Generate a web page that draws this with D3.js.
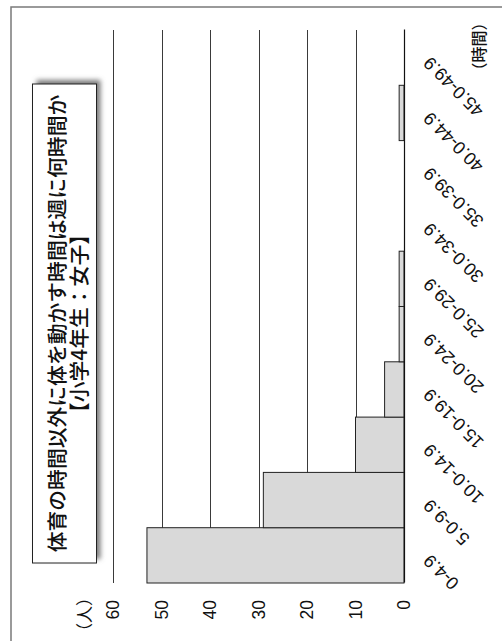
<!DOCTYPE html>
<html>
<head>
<meta charset="utf-8">
<script src="https://cdn.jsdelivr.net/npm/d3@7"></script>
<style>
  html, body { margin: 0; padding: 0; background: #fff; }
  svg { display: block; }
</style>
</head>
<body>
<script>
// Weekly hours of physical activity outside PE class (4th grade girls)
const categories = ["0-4.9", "5.0-9.9", "10.0-14.9", "15.0-19.9", "20.0-24.9",
                    "25.0-29.9", "30.0-34.9", "35.0-39.9", "40.0-44.9", "45.0-49.9"];
const counts = [53, 29, 10, 4, 1, 1, 0, 0, 1, 0];
const valueTicks = [0, 10, 20, 30, 40, 50, 60];
const titleLines = ["体育の時間以外に体を動かす時間は週に何時間か", "【小学4年生：女子】"];
const valueUnit = "（人）";
const categoryUnit = "（時間）";

const W = 502, H = 641;
const latin = "'Liberation Sans', Arial, 'Noto Sans CJK JP', sans-serif";
const cjk = "'Noto Sans CJK JP', 'Noto Sans CJK SC', sans-serif";

const svg = d3.select("body").append("svg")
  .attr("width", W).attr("height", H);

const defs = svg.append("defs");
defs.append("filter").attr("id", "boxShadow")
  .attr("x", "-20%").attr("y", "-30%").attr("width", "140%").attr("height", "160%")
  .append("feGaussianBlur").attr("stdDeviation", 2.5);

// outer frame (runs off the page on the right and bottom)
svg.append("rect")
  .attr("x", 11).attr("y", 7).attr("width", 620).attr("height", 720)
  .attr("fill", "none").attr("stroke", "#7a7a7a").attr("stroke-width", 1.5);

// the whole chart is laid out in its own frame and turned a quarter turn
const g = svg.append("g").attr("transform", `translate(0,${H}) rotate(-90)`);

const x = d3.scaleBand().domain(categories).range([58, 611]).padding(0);
const y = d3.scaleLinear().domain([0, 60]).range([404, 113]);

// horizontal gridlines
g.append("g").selectAll("line")
  .data(valueTicks.filter(t => t > 0))
  .join("line")
  .attr("x1", x.range()[0]).attr("x2", x.range()[1])
  .attr("y1", d => Math.round(y(d)) + 0.5).attr("y2", d => Math.round(y(d)) + 0.5)
  .attr("stroke", "#3a3a3a").attr("stroke-width", 1);

// histogram bars
g.append("g").selectAll("rect")
  .data(categories.map((c, i) => ({ c, v: counts[i] })).filter(d => d.v > 0))
  .join("rect")
  .attr("x", d => x(d.c))
  .attr("width", x.bandwidth())
  .attr("y", d => y(d.v))
  .attr("height", d => y(0) - y(d.v))
  .attr("fill", "#d9d9d9")
  .attr("stroke", "#222").attr("stroke-width", 1);

// value axis labels
const yAxis = g.append("g")
  .attr("transform", `translate(${x.range()[0]},0)`)
  .call(d3.axisLeft(y).tickValues(valueTicks).tickSize(0).tickPadding(17));
yAxis.select(".domain").remove();
yAxis.selectAll("text")
  .attr("font-family", latin).attr("font-size", 17.5).attr("fill", "#111");

// category axis
const xAxis = g.append("g")
  .attr("transform", `translate(0,${y(0)})`)
  .call(d3.axisBottom(x).tickSize(0));
xAxis.select(".domain")
  .attr("stroke", "#111").attr("stroke-width", 1.2);
xAxis.selectAll("text")
  .attr("font-family", latin).attr("font-size", 18).attr("fill", "#111")
  .attr("x", 0).attr("y", 0).attr("dy", 0)
  .attr("text-anchor", "end")
  .attr("transform", "translate(2,27) rotate(-45)");

// unit labels
g.append("text")
  .attr("x", 26.5).attr("y", 83)
  .attr("text-anchor", "middle").attr("dominant-baseline", "central")
  .attr("font-family", cjk).attr("font-size", 17).attr("fill", "#111")
  .text(valueUnit);
g.append("text")
  .attr("x", 594.5).attr("y", 478)
  .attr("text-anchor", "middle").attr("dominant-baseline", "central")
  .attr("font-family", cjk).attr("font-size", 16).attr("font-weight", 500).attr("fill", "#111")
  .text(categoryUnit);

// title box with drop shadow
const box = { x0: 78, x1: 557, y0: 32.5, y1: 96.5 };
g.append("rect")
  .attr("x", box.x0 + 4).attr("y", box.y0 + 4)
  .attr("width", box.x1 - box.x0).attr("height", box.y1 - box.y0)
  .attr("fill", "#7a7a7a").attr("filter", "url(#boxShadow)");
g.append("rect")
  .attr("x", box.x0).attr("y", box.y0)
  .attr("width", box.x1 - box.x0).attr("height", box.y1 - box.y0)
  .attr("fill", "#fff").attr("stroke", "#222").attr("stroke-width", 1);
g.append("g").selectAll("text")
  .data(titleLines)
  .join("text")
  .attr("x", (box.x0 + box.x1) / 2)
  .attr("y", (d, i) => [55.5, 78][i])
  .attr("text-anchor", "middle").attr("dominant-baseline", "central")
  .attr("font-family", cjk).attr("font-size", 20.8).attr("font-weight", 500).attr("fill", "#111")
  .text(d => d);
</script>
</body>
</html>
